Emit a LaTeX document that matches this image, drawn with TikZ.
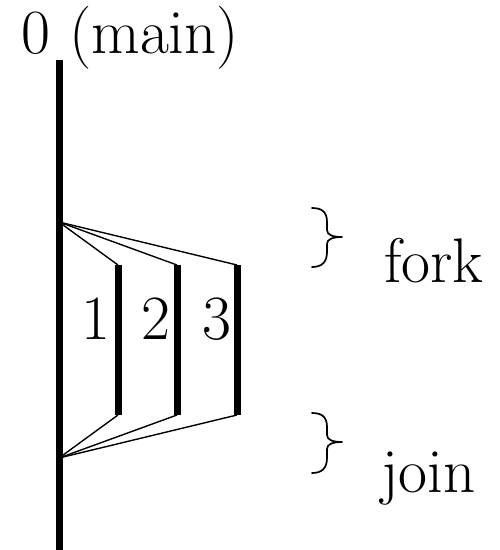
\documentclass[tikz,border=0pt]{standalone}
\usepackage{fontspec}
\begin{document}
\begin{tikzpicture}[x=1pt,y=-1pt,
  thread/.style={line width=7pt,line cap=butt},
  link/.style={line width=1.4pt},
  lbl/.style={inner sep=0pt,anchor=base,font=\rmfamily\fontsize{63}{63}\selectfont},
  brc/.style={line width=1.7pt,line cap=round,line join=round}]
\useasboundingbox (0,0) rectangle (500,550);
% coordinates
\coordinate (m0) at (59,60);
\coordinate (mb) at (59,550);
\coordinate (f) at (59,222);
\coordinate (j) at (59,458);
\coordinate (t1a) at (118,265); \coordinate (t1b) at (118,415);
\coordinate (t2a) at (177,265); \coordinate (t2b) at (177,415);
\coordinate (t3a) at (237,265); \coordinate (t3b) at (237,415);
% threads
\draw[thread] (m0) -- (mb);
\draw[thread] (t1a) -- (t1b);
\draw[thread] (t2a) -- (t2b);
\draw[thread] (t3a) -- (t3b);
% fork / join links
\draw[link] (f) -- (t1a);
\draw[link] (f) -- (t2a);
\draw[link] (f) -- (t3a);
\draw[link] (t1b) -- (j);
\draw[link] (t2b) -- (j);
\draw[link] (t3b) -- (j);
% labels
\node[lbl,anchor=base west] (main) at (21,53) {0 (main)};
\node[lbl] (l1) at (96,339) {1};
\node[lbl] (l2) at (156,339) {2};
\node[lbl] (l3) at (217,339) {3};
\node[lbl,anchor=base west] (fork) at (384,282) {fork};
\node[lbl,anchor=base west] (join) at (381,492) {join};
% braces
\draw[brc] (312,208) .. controls (322,208) and (327,212) .. (327,222)
  -- (327,230) .. controls (327,235) and (333,237) .. (342,237)
  .. controls (333,237) and (327,239) .. (327,244)
  -- (327,252) .. controls (327,262) and (322,267) .. (312,267);
\draw[brc] (312,413) .. controls (322,413) and (327,417) .. (327,427)
  -- (327,435) .. controls (327,440) and (333,442) .. (342,442)
  .. controls (333,442) and (327,444) .. (327,449)
  -- (327,458) .. controls (327,468) and (322,473) .. (312,473);
\end{tikzpicture}
\end{document}
